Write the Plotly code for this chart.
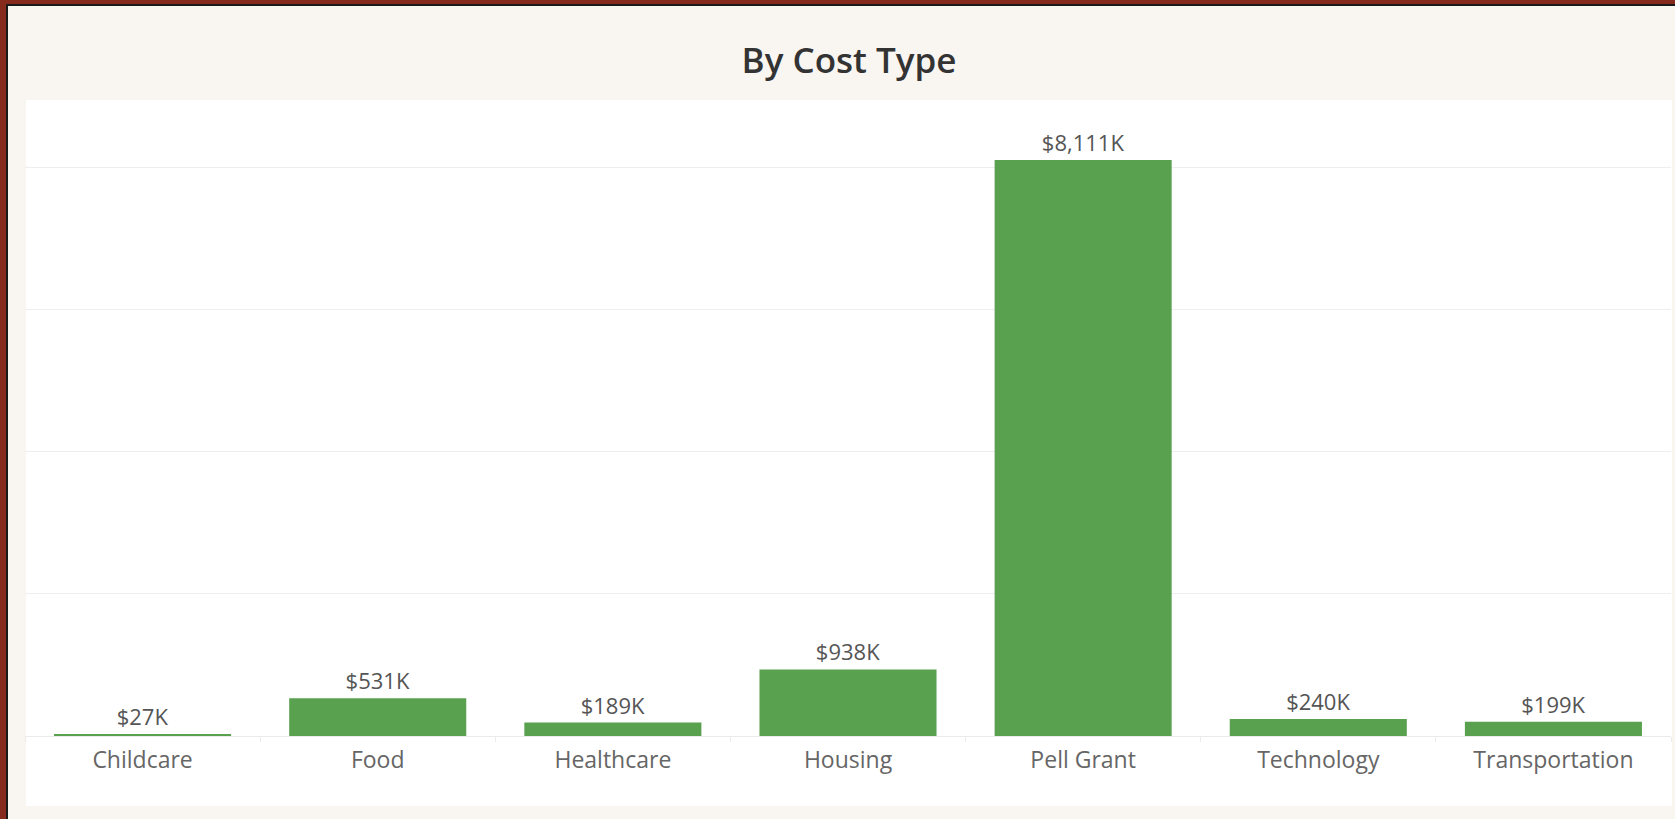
import plotly.graph_objects as go

categories = ["Childcare", "Food", "Healthcare", "Housing", "Pell Grant", "Technology", "Transportation"]
values_k = [27, 531, 189, 938, 8111, 240, 199]
value_labels = ["$27K", "$531K", "$189K", "$938K", "$8,111K", "$240K", "$199K"]
title_text = "By Cost Type"

W, H = 1675, 819
PL, PR, PT, PB = 25, 1671, 100, 736  # plot area in pixels

FONT = "Open Sans"
BAR = "#59A14F"
BEIGE = "#F9F5F1"

fig = go.Figure()
fig.add_trace(go.Bar(
    x=categories,
    y=[v * 1000 for v in values_k],
    marker=dict(color=BAR, line=dict(width=0)),
    text=value_labels,
    textposition="outside",
    textfont=dict(family=FONT, size=22, color="#555555"),
    cliponaxis=False,
    hoverinfo="skip",
))

def fx(p):
    return (p - PL) / (PR - PL)

def fy(p):
    return (PB - p) / (PB - PT)

shapes = [
    # white panel
    dict(type="rect", xref="paper", yref="paper", layer="below",
         x0=fx(26), x1=fx(1672), y0=fy(806), y1=fy(100),
         fillcolor="white", line=dict(width=0)),
    # dark red border top
    dict(type="rect", xref="paper", yref="paper", layer="above",
         x0=fx(0), x1=fx(W), y0=fy(4), y1=fy(0),
         fillcolor="#862A1D", line=dict(width=0)),
    # dark red border left
    dict(type="rect", xref="paper", yref="paper", layer="above",
         x0=fx(0), x1=fx(6), y0=fy(H), y1=fy(0),
         fillcolor="#862A1D", line=dict(width=0)),
    # black inner line top
    dict(type="rect", xref="paper", yref="paper", layer="above",
         x0=fx(6), x1=fx(W), y0=fy(6), y1=fy(4),
         fillcolor="#1A1A1A", line=dict(width=0)),
    # black inner line left
    dict(type="rect", xref="paper", yref="paper", layer="above",
         x0=fx(6), x1=fx(8), y0=fy(H), y1=fy(4),
         fillcolor="#1A1A1A", line=dict(width=0)),
]

ymax = (PB - PT) * 8111000 / (PB - 160)

fig.update_layout(
    width=W, height=H,
    margin=dict(l=PL, r=W - PR, t=PT, b=H - PB, pad=0),
    paper_bgcolor=BEIGE,
    plot_bgcolor="rgba(0,0,0,0)",
    showlegend=False,
    bargap=0.247,
    title=dict(text=title_text, x=849 / W, xanchor="center", y=1 - 61 / H, yanchor="middle",
               yref="container", xref="container",
               font=dict(family=FONT, size=35, color="#333333", weight=600)),
    shapes=shapes,
    xaxis=dict(
        type="category",
        tickson="boundaries",
        ticks="outside", ticklen=5, tickcolor="#EBEBEB", tickwidth=1,
        showgrid=False, showline=False, zeroline=False,
        tickfont=dict(family=FONT, size=23, color="#666666"),
        ticklabelstandoff=8,
        fixedrange=True,
    ),
    yaxis=dict(
        range=[0, ymax],
        tickvals=[0, 2000000, 4000000, 6000000, 8000000],
        showticklabels=False,
        showgrid=True, gridcolor="#EEEEEE", gridwidth=1,
        zeroline=True, zerolinecolor="#EBEBEB", zerolinewidth=1,
        showline=False,
        fixedrange=True,
    ),
)

fig.write_html("out.html", config={"displayModeBar": False},
               post_script="document.body.style.margin='0';document.body.style.padding='0';")
